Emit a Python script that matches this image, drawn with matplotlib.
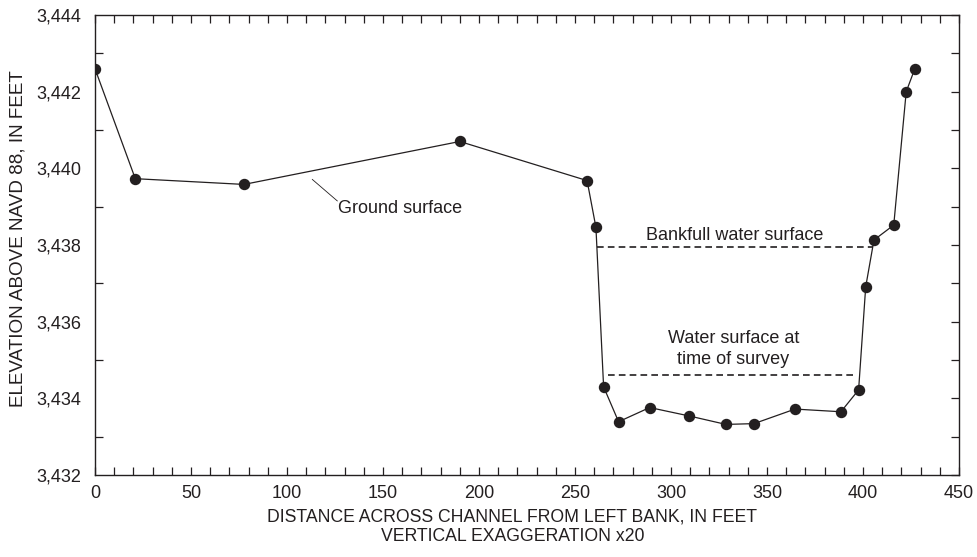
import numpy as np
import matplotlib.pyplot as plt
from matplotlib.ticker import MultipleLocator, FuncFormatter

#survey points read from the cross section
distance = [0, 21, 77.6, 190, 256.3, 260.9, 264.9, 272.7, 288.9, 309.5, 328.6,
            343.2, 364.6, 388.5, 397.7, 401.4, 405.7, 416, 422.5, 427]
elevation = [3442.6, 3439.73, 3439.58, 3440.7, 3439.68, 3438.46, 3434.30, 3433.39,
             3433.76, 3433.54, 3433.32, 3433.34, 3433.72, 3433.65, 3434.22,
             3436.91, 3438.13, 3438.52, 3442.0, 3442.6]

#water surfaces: [x start, x end], elevation
bankfull_x = [261.3, 405]
bankfull_y = 3437.96
survey_x = [267.4, 397]
survey_y = 3434.61

ink = '#231f20'
plt.rcParams['font.family'] = ['Liberation Sans', 'DejaVu Sans']
plt.rcParams['font.size'] = 13
plt.rcParams['text.color'] = ink

fig = plt.figure(figsize=(9.78, 5.57), dpi=100)
ax = fig.add_axes([0.0971, 0.1472, 0.8835, 0.8259])

ax.plot(distance, elevation, color=ink, lw=0.9, marker='o', ms=7.2,
        mfc=ink, mec=ink, zorder=3)
ax.plot(bankfull_x, [bankfull_y] * 2, color=ink, lw=1.2, ls=(0, (4, 2.5)))
ax.plot(survey_x, [survey_y] * 2, color=ink, lw=1.2, ls=(0, (4, 2.5)))

ax.text(333.3, 3438.25, 'Bankfull water surface', ha='center', va='center')
ax.text(332.4, 3435.29, 'Water surface at\ntime of survey', ha='center',
        va='center', linespacing=1.25)
ax.text(126.7, 3438.94, 'Ground surface', ha='left', va='center')
ax.plot([113.2, 126.2], [3439.71, 3439.15], color=ink, lw=0.6)

ax.set_xlim(0, 450)
ax.set_ylim(3432, 3444)
ax.xaxis.set_major_locator(MultipleLocator(50))
ax.xaxis.set_minor_locator(MultipleLocator(10))
ax.yaxis.set_major_locator(MultipleLocator(2))
ax.yaxis.set_minor_locator(MultipleLocator(1))
ax.yaxis.set_major_formatter(FuncFormatter(lambda v, p: f'{v:,.0f}'))

ax.tick_params(axis='x', which='both', direction='in', top=True, length=6,
               width=0.9, color=ink, labelcolor=ink, pad=7)
ax.tick_params(axis='y', which='major', direction='in', left=False, right=True,
               length=6, width=0.9, color=ink, labelcolor=ink, pad=10,
               labelleft=True)
ax.tick_params(axis='y', which='minor', direction='in', right=True, length=6,
               width=0.9, color=ink)
for s in ax.spines.values():
    s.set_color(ink)
    s.set_linewidth(1.0)

ax.set_xlabel('DISTANCE ACROSS CHANNEL FROM LEFT BANK, IN FEET\nVERTICAL EXAGGERATION x20',
              color=ink, linespacing=1.2, fontsize=12.7)
ax.xaxis.set_label_coords(0.483, -0.072, transform=ax.transAxes)
ax.xaxis.label.set_va('top')
ax.set_ylabel('ELEVATION ABOVE NAVD 88, IN FEET', color=ink, fontsize=13.6)
ax.yaxis.set_label_coords(-0.079, 0.513, transform=ax.transAxes)

plt.savefig('out.png', dpi=100)
